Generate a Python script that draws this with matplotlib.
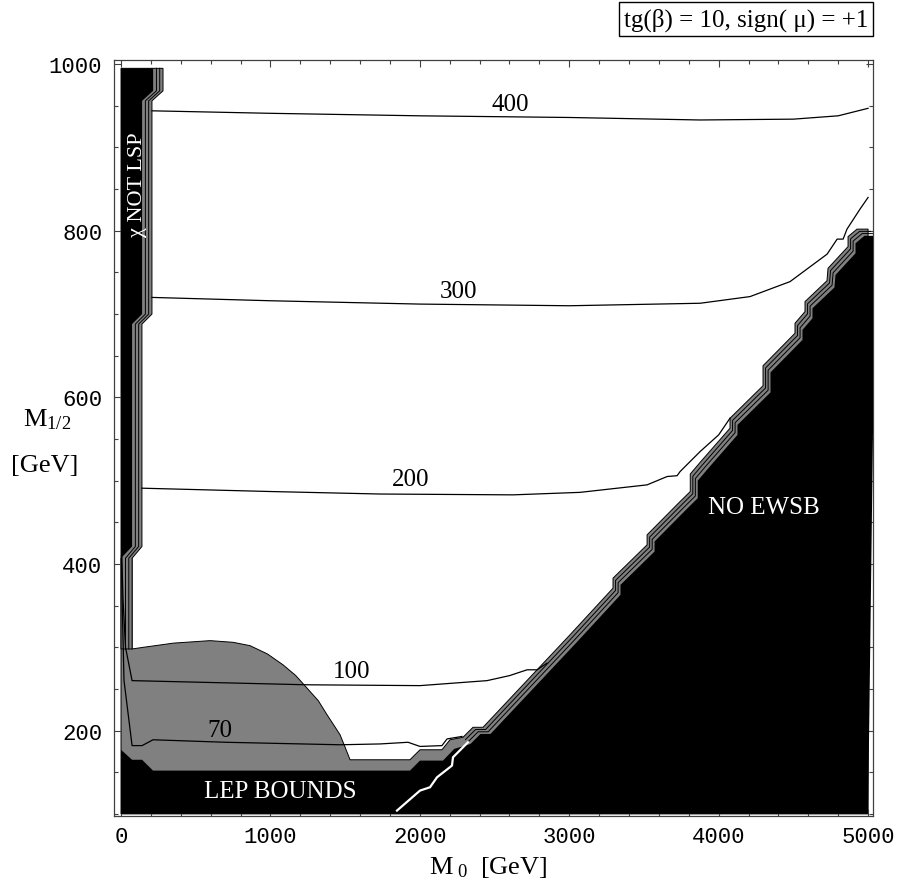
import numpy as np
import matplotlib
matplotlib.use("Agg")
import matplotlib.pyplot as plt

plt.rcParams['font.family'] = ['Liberation Serif', 'DejaVu Serif']
plt.rcParams['mathtext.fontset'] = 'custom'
plt.rcParams['mathtext.rm'] = 'Liberation Serif'
plt.rcParams['mathtext.it'] = 'Liberation Serif:italic'

GRAY = '#808080'

# --- excluded regions (M0, M1/2 in GeV) ---
# chi not LSP band, outer edge
lsp_x = [74, 74, 140, 140, 207, 207, 281, 281]
lsp_y = [298, 407, 421, 688, 700, 956, 968, 995]
# chi not LSP, black core
lsp_core_x = [0, 74, 74, 141, 141, 215, 215, 0]
lsp_core_y = [407, 421, 688, 700, 956, 968, 995, 995]

# gray region top edge (LEP part)
gr_x = [0, 0, 74, 74, 150, 350, 596, 750, 863, 980, 1084, 1170, 1245, 1320,
        1379, 1430, 1466, 1500, 1533, 1934, 2001, 2148, 2202]
gr_y = [100, 407, 407, 298, 300, 305, 308, 306, 302, 292, 279, 266, 251, 236,
        219, 205, 195, 180, 165, 165, 177, 177, 189]

# no EWSB staircase, outer edge of the band
ew_x = [2289, 2356, 2423, 3005, 3293, 3293, 3521, 3521, 3742, 3810, 3810, 3876,
        4076, 4076, 4297, 4297, 4511, 4511, 4578, 4578, 4725, 4732, 4866, 4866,
        4926, 5000]
ew_y = [192, 204, 204, 315, 371, 383, 423, 435, 475, 487, 508, 522,
        563, 575, 614, 638, 677, 689, 703, 715, 740, 755, 781, 793,
        802, 802]

# LEP bound, black top edge
lep_x = [0, 0, 74, 141, 214, 1934, 2001, 2155, 2230]
lep_y = [100, 177, 165, 165, 152, 152, 164, 164, 178]

# white line inside the black region
wl_x = [1847, 2001, 2068, 2115, 2215, 2222, 2322]
wl_y = [104, 128, 132, 144, 158, 168, 186]

# --- neutralino mass contours ---
c70_x = [3, 7, 20, 74, 141, 214, 700, 1466, 1734, 1921, 2001, 2148, 2182, 2282]
c70_y = [410, 359, 260, 182, 182, 189, 186, 183, 184, 186, 181, 182, 190, 193]
c100_x = [5, 13, 30, 74, 1245, 2001, 2450, 2600, 2718, 2785, 2851]
c100_y = [410, 359, 300, 260, 255, 254, 260, 266, 273, 273, 281]
c200_x = [140, 1000, 1734, 2624, 3072, 3521, 3655, 3722, 3742, 3876, 4000, 4076]
c200_y = [491, 487, 484, 483, 486, 495, 505, 506, 511, 535, 555, 575]
c300_x = [207, 1000, 2000, 3000, 3876, 4210, 4478, 4726, 4793, 4833, 4859, 4946, 5000]
c300_y = [720, 716, 712, 710, 713, 721, 739, 772, 790, 790, 802, 826, 840]
c400_x = [207, 1000, 2000, 3000, 3876, 4500, 4800, 5000]
c400_y = [944, 941, 938, 936, 933, 934, 938, 947]

labels = ['70', '100', '200', '300', '400']
label_x = [663, 1540, 1941, 2262, 2604]
label_y = [201, 272, 502, 728, 952]

fig = plt.figure(figsize=(8.98, 8.79), dpi=100)
ax = fig.add_axes([114/898, 1-817/879, (873-114)/898, (817-61)/879])

# gray region: LEP + EWSB band
gx = np.r_[gr_x, ew_x, 5000]
gy = np.r_[gr_y, ew_y, 100]
ax.fill(gx, gy, facecolor=GRAY, edgecolor='black', lw=0.7, zorder=1)

# chi not LSP band
ax.fill(np.r_[lsp_x, 0, 0], np.r_[lsp_y, 995, 298], facecolor=GRAY,
        edgecolor='black', lw=0.7, zorder=1)

# inner lines of the bands
ewx = np.array(ew_x)
ewy = np.array(ew_y)
lx = np.array(lsp_x)
ly = np.array(lsp_y)
for k in (1, 2):
    ax.plot(ewx + 17*k, ewy - 2.7*k, color='black', lw=0.7, zorder=2)
    ax.plot(lx - 22*k, ly, color='black', lw=0.7, zorder=2)

# black cores
ax.fill(lsp_core_x, lsp_core_y, color='black', lw=0, zorder=3)
bx = np.r_[lep_x, ewx + 50, 5000]
by = np.r_[lep_y, ewy - 8, 100]
ax.fill(bx, by, color='black', lw=0, zorder=3)

ax.plot(wl_x, wl_y, color='white', lw=1.6, zorder=4)

for cx, cy in [(c70_x, c70_y), (c100_x, c100_y), (c200_x, c200_y),
               (c300_x, c300_y), (c400_x, c400_y)]:
    ax.plot(cx, cy, color='black', lw=0.9, zorder=4)

for t, x, y in zip(labels, label_x, label_y):
    ax.text(x, y, t, fontsize=18, ha='center', va='center', zorder=5)

ax.text(107, 856, 'χ NOT LSP', rotation=90, color='white', fontsize=16,
        ha='center', va='center', zorder=5)
ax.text(4300, 468, 'NO EWSB', color='white', fontsize=18, ha='center',
        va='center', zorder=5)
ax.text(1064, 127, 'LEP BOUNDS', color='white', fontsize=18, ha='center',
        va='center', zorder=5)

ax.set_xlim(-47, 5033)
ax.set_ylim(97.5, 1005)
ax.set_xticks(np.arange(0, 5001, 1000))
ax.set_xticks(np.arange(0, 5001, 200), minor=True)
ax.set_yticks(np.arange(200, 1001, 200))
ax.set_yticks(np.arange(100, 1001, 50), minor=True)
ax.tick_params(which='both', direction='in', top=True, right=True,
               color='#404040', width=0.8)
ax.tick_params(which='major', length=5)
ax.tick_params(which='minor', length=3)
ax.tick_params(axis='y', pad=8.5)
ax.tick_params(axis='x', pad=7)
for lab in ax.get_xticklabels() + ax.get_yticklabels():
    lab.set_fontfamily('Liberation Mono')
    lab.set_fontsize(16)
for s in ax.spines.values():
    s.set_color('#404040')
    s.set_linewidth(0.9)

fig.text(47/898, 1-420/879, r'$\mathrm{M}_{1/2}$', fontsize=19,
         ha='center', va='center')
fig.text(45/898, 1-466/879, '[GeV]', fontsize=19, ha='center', va='center')
fig.text(488/898, 1-868/879, r'$\mathrm{M}_{\ 0}$  [GeV]', fontsize=19,
         ha='center', va='center')
fig.text(868/898, 1-20/879, 'tg(β) = 10, sign( μ) = +1', fontsize=18,
         ha='right', va='center',
         bbox=dict(boxstyle='square,pad=0.2', fc='white', ec='black', lw=1))

fig.savefig('out.png', dpi=100)
